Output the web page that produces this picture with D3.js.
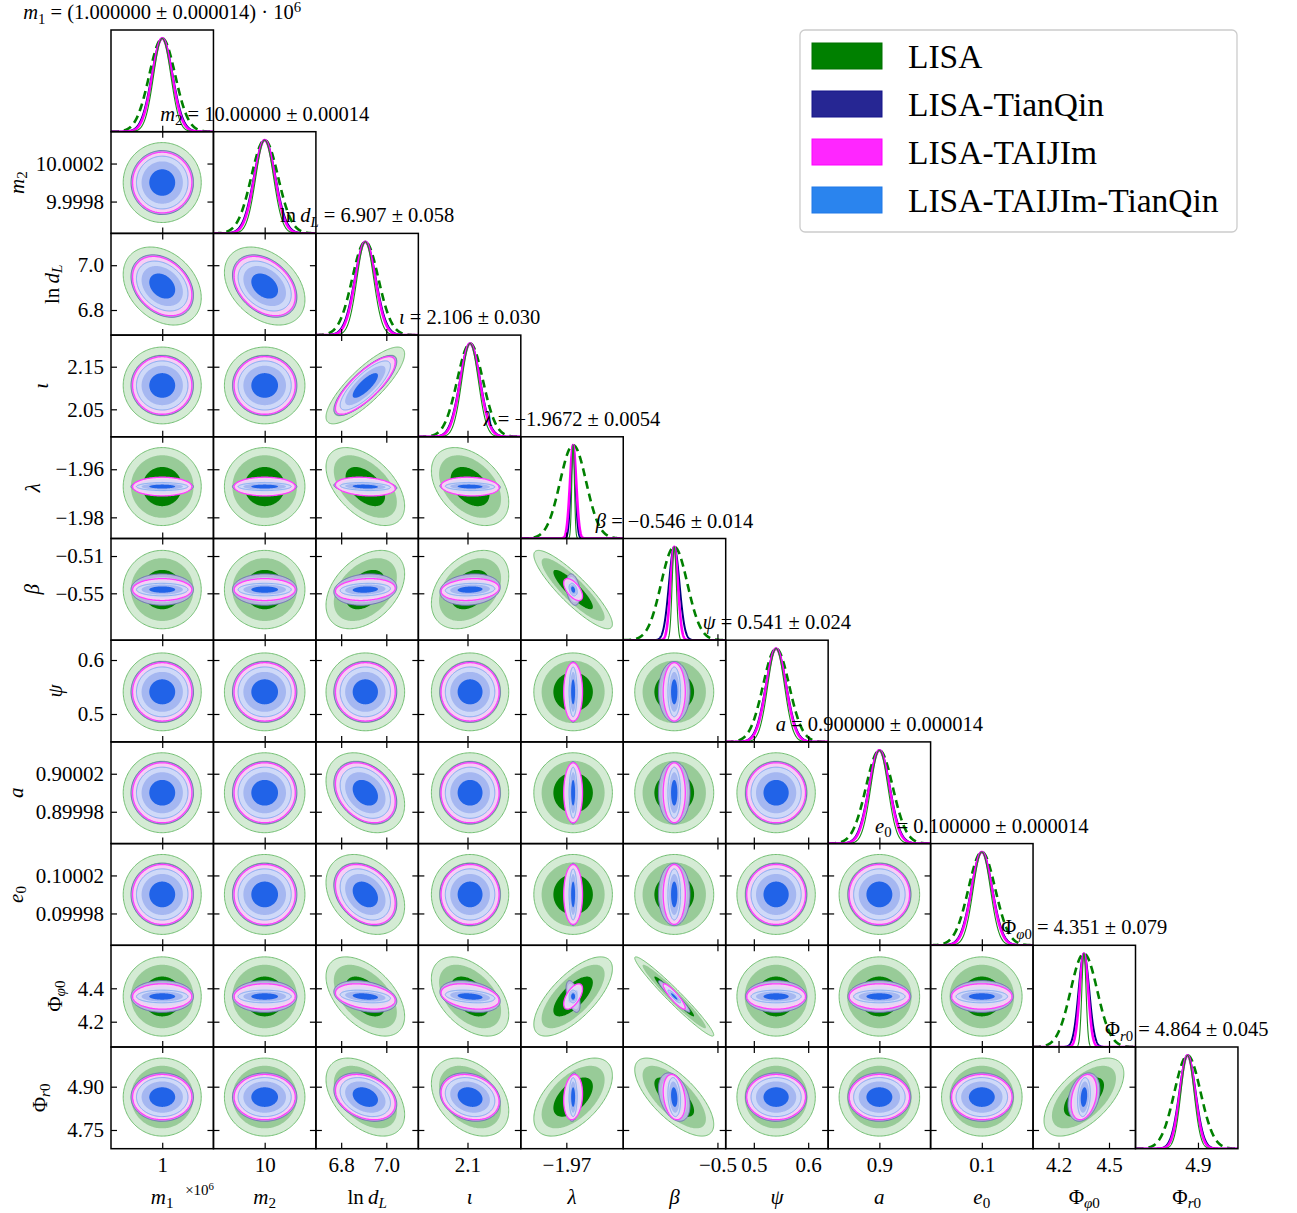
<!DOCTYPE html>
<html>
<head>
<meta charset="utf-8">
<script src="https://cdn.jsdelivr.net/npm/d3@7"></script>
<style>
  body { margin: 0; background: #ffffff; }
  svg { display: block; }
</style>
</head>
<body>
<svg id="chart" width="1297" height="1213"></svg>
<script>
// ---------------- data ----------------
const paramKeys   = ['m1', 'm2', 'lndL', 'iota', 'lambda', 'beta', 'psi', 'a', 'e0', 'phiphi0', 'phir0'];
const meanValues  = [1.0, 10.0, 6.907, 2.106, -1.9672, -0.546, 0.541, 0.9, 0.1, 4.351, 4.864];
const lisaSigma   = [0.000014, 0.00014, 0.058, 0.030, 0.0054, 0.014, 0.024, 0.000014, 0.000014, 0.079, 0.045];
const titleDigits = [6, 5, 3, 3, 4, 3, 3, 6, 6, 3, 3];

// widths of the networked configurations, relative to LISA alone
const tianqinRatio  = [0.80, 0.80, 0.80, 0.78, 0.18, 0.40, 0.78, 0.78, 0.78, 0.40, 0.62];
const taijiRatio    = [0.76, 0.76, 0.76, 0.75, 0.24, 0.28, 0.75, 0.75, 0.75, 0.32, 0.58];
const combinedRatio = [0.66, 0.66, 0.64, 0.64, 0.10, 0.16, 0.64, 0.64, 0.64, 0.16, 0.50];

// plotted parameter ranges
const axisMin = [0.9999448, 9.999465, 6.688, 1.9855, -1.9888, -0.6003, 0.4483, 0.8999465, 0.0999465, 4.0485, 4.6852];
const axisMax = [1.0000552, 10.000535, 7.142, 2.2242, -1.9465, -0.4912, 0.6367, 0.9000535, 0.1000535, 4.6575, 5.0375];

const xTickValues = [[1], [10], [6.8, 7.0], [2.1], [-1.97], [-0.5], [0.5, 0.6], [0.9], [0.1], [4.2, 4.5], [4.9]];
const xTickLabels = [['1'], ['10'], ['6.8', '7.0'], ['2.1'], ['\u22121.97'], ['\u22120.5'], ['0.5', '0.6'], ['0.9'], ['0.1'], ['4.2', '4.5'], ['4.9']];
const yTickValues = [[], [10.0002, 9.9998], [7.0, 6.8], [2.15, 2.05], [-1.96, -1.98], [-0.51, -0.55], [0.6, 0.5],
                     [0.90002, 0.89998], [0.10002, 0.09998], [4.4, 4.2], [4.90, 4.75]];
const yTickLabels = [[], ['10.0002', '9.9998'], ['7.0', '6.8'], ['2.15', '2.05'], ['\u22121.96', '\u22121.98'],
                     ['\u22120.51', '\u22120.55'], ['0.6', '0.5'], ['0.90002', '0.89998'], ['0.10002', '0.09998'],
                     ['4.4', '4.2'], ['4.90', '4.75']];

// correlation coefficients: [row param, column param, LISA, TianQin, TAIJIm, combined]
const correlations = [
  [2, 0, -0.30, -0.30, -0.30, -0.30],
  [2, 1, -0.35, -0.35, -0.35, -0.35],
  [3, 2,  0.82,  0.80,  0.80,  0.80],
  [4, 2, -0.50, -0.20, -0.20, -0.20],
  [4, 3, -0.40, -0.10, -0.10, -0.10],
  [5, 2,  0.40,  0.15,  0.15,  0.15],
  [5, 3,  0.35,  0.15,  0.15,  0.15],
  [5, 4, -0.88, -0.30, -0.60, -0.30],
  [7, 2, -0.30, -0.30, -0.30, -0.30],
  [8, 2, -0.30, -0.30, -0.30, -0.30],
  [9, 2, -0.50, -0.30, -0.30, -0.30],
  [9, 3, -0.45, -0.30, -0.30, -0.30],
  [9, 4,  0.70, -0.50,  0.60,  0.00],
  [9, 5, -0.97, -0.95, -0.90, -0.90],
  [10, 2, -0.45, -0.30, -0.30, -0.30],
  [10, 3, -0.35, -0.20, -0.20, -0.20],
  [10, 4,  0.55,  0.15,  0.15,  0.00],
  [10, 5, -0.70, -0.35, -0.25, -0.20],
  [10, 9,  0.60,  0.30,  0.30,  0.20]
];

const detectorNames = ['LISA', 'LISA-TianQin', 'LISA-TAIJIm', 'LISA-TAIJIm-TianQin'];
const contourLevels = [0.989, 0.945, 0.68];   // enclosed probability, outer to inner

// ---------------- styling ----------------
const FONT = '"Liberation Serif", "Times New Roman", "DejaVu Serif", serif';
const detectorStyle = [
  { fills: ['#d4ebd4', '#98cb98', '#008000'], edge: '#73bf73', edgeW: 1.0,
    line: '#008000', lineW: 2.6, dash: '8,5', legend: '#008000', legendEdge: '#007000' },
  { fills: ['#b5b8da', '#c9ccea', '#aab2e6'], edge: '#6d71b3', edgeW: 1.0,
    line: '#000080', lineW: 2.0, dash: null, legend: '#262693', legendEdge: '#14148a' },
  { fills: ['#f5cff5', '#ddd9f5', '#bdc9f3'], edge: '#ff3dff', edgeW: 1.3,
    line: '#ff00ff', lineW: 2.6, dash: null, legend: '#ff26ff', legendEdge: '#ff00ff' },
  { fills: ['#cfd9f8', '#a5b7f1', '#2163e8'], edge: '#82aaf2', edgeW: 1.0,
    line: '#1a8a1a', lineW: 1.1, dash: null, legend: '#2a84ee', legendEdge: '#1e78e8' }
];
const ratios = [null, tianqinRatio, taijiRatio, combinedRatio];
const sigmaOf = (d, p) => lisaSigma[p] * (d === 0 ? 1 : ratios[d][p]);
const corrOf = (d, i, j) => {
  const row = correlations.find(c => c[0] === i && c[1] === j);
  return row ? row[2 + d] : 0;
};

// math-style labels (italic symbols, sub/superscripts)
const paramLabels = [
  [{ t: 'm', it: 1 }, { t: '1', sub: 1 }],
  [{ t: 'm', it: 1 }, { t: '2', sub: 1 }],
  [{ t: 'ln\u2009' }, { t: 'd', it: 1 }, { t: 'L', it: 1, sub: 1 }],
  [{ t: '\u03b9', it: 1 }],
  [{ t: '\u03bb', it: 1 }],
  [{ t: '\u03b2', it: 1 }],
  [{ t: '\u03c8', it: 1 }],
  [{ t: 'a', it: 1 }],
  [{ t: 'e', it: 1 }, { t: '0', sub: 1 }],
  [{ t: '\u03a6' }, { t: '\u03c6', it: 1, sub: 1 }, { t: '0', sub: 1 }],
  [{ t: '\u03a6' }, { t: 'r', it: 1, sub: 1 }, { t: '0', sub: 1 }]
];

function mathText(sel, segs, size) {
  let shift = 0;
  segs.forEach(s => {
    const sp = sel.append('tspan').text(s.t);
    let target = 0, fs = size;
    if (s.sub) { target = size * 0.22; fs = size * 0.72; }
    if (s.sup) { target = -size * 0.36; fs = size * 0.72; }
    sp.attr('font-size', fs);
    if (target !== shift) { sp.attr('dy', target - shift); shift = target; }
    if (s.it) sp.attr('font-style', 'italic');
  });
  return sel;
}
const fmt = (v, d) => v.toFixed(d).replace('-', '\u2212');

// ---------------- layout ----------------
const svg = d3.select('#chart');
const N = paramKeys.length;
const X0 = 111, Y0 = 30, CW = 102.45, CH = 101.7;
const TICK = 6;
const rowLabelX = [0, 17, 52, 41, 33, 32, 55, 16, 16, 55, 40];
const defs = svg.append('defs');

function tickAxes(g, x, y, xv, yv) {
  const clean = sel => {
    sel.select('.domain').remove();
    sel.selectAll('.tick line').attr('stroke', '#000').attr('stroke-width', 1.2);
  };
  g.append('g').attr('transform', `translate(0,${CH})`)
    .call(d3.axisBottom(x).tickValues(xv).tickSize(-TICK).tickFormat('')).call(clean);
  if (y) {
    g.append('g').call(d3.axisTop(x).tickValues(xv).tickSize(-TICK).tickFormat('')).call(clean);
    g.append('g').call(d3.axisLeft(y).tickValues(yv).tickSize(-TICK).tickFormat('')).call(clean);
    g.append('g').attr('transform', `translate(${CW},0)`)
      .call(d3.axisRight(y).tickValues(yv).tickSize(-TICK).tickFormat('')).call(clean);
  }
}

for (let i = 0; i < N; i++) {
  for (let j = 0; j <= i; j++) {
    const g = svg.append('g').attr('transform', `translate(${X0 + j * CW},${Y0 + i * CH})`);
    const clipId = `clip-${i}-${j}`;
    defs.append('clipPath').attr('id', clipId)
      .append('rect').attr('width', CW).attr('height', CH);
    const body = g.append('g').attr('clip-path', `url(#${clipId})`);
    const x = d3.scaleLinear().domain([axisMin[j], axisMax[j]]).range([0, CW]);

    if (i === j) {
      // 1D marginal densities, each scaled to unit peak
      const y = d3.scaleLinear().domain([0, 1.09]).range([CH, 0]);
      const xs = d3.range(0, 601).map(k => axisMin[j] + (axisMax[j] - axisMin[j]) * k / 600);
      detectorNames.forEach((name, d) => {
        const s = sigmaOf(d, j), mu = meanValues[j], st = detectorStyle[d];
        const line = d3.line()
          .x(v => x(v))
          .y(v => y(Math.exp(-0.5 * ((v - mu) / s) ** 2)));
        body.append('path').datum(xs).attr('d', line)
          .attr('fill', 'none').attr('stroke', st.line).attr('stroke-width', st.lineW)
          .attr('stroke-dasharray', st.dash);
      });
      tickAxes(g, x, null, xTickValues[j], null);

      // title with mean and error
      const title = g.append('text').attr('x', CW / 2).attr('y', -11)
        .attr('text-anchor', 'middle').attr('font-family', FONT).attr('font-size', 20.5);
      let tail;
      if (j === 0) {
        tail = [{ t: ` = (${fmt(meanValues[j], titleDigits[j])} \u00b1 ${fmt(lisaSigma[j], titleDigits[j])}) \u00b7 10` },
                { t: '6', sup: 1 }];
      } else {
        tail = [{ t: ` = ${fmt(meanValues[j], titleDigits[j])} \u00b1 ${fmt(lisaSigma[j], titleDigits[j])}` }];
      }
      mathText(title, paramLabels[j].concat(tail), 20.5);
    } else {
      // 2D confidence regions as Gaussian contours
      const y = d3.scaleLinear().domain([axisMin[i], axisMax[i]]).range([CH, 0]);
      const angles = d3.range(0, 180).map(k => 2 * Math.PI * k / 180);
      detectorNames.forEach((name, d) => {
        const sx = sigmaOf(d, j), sy = sigmaOf(d, i), rho = corrOf(d, i, j);
        const mx = meanValues[j], my = meanValues[i], st = detectorStyle[d];
        contourLevels.forEach((p, li) => {
          const r = Math.sqrt(-2 * Math.log(1 - p));
          const pts = angles.map(t => [
            mx + r * sx * Math.cos(t),
            my + r * sy * (rho * Math.cos(t) + Math.sqrt(1 - rho * rho) * Math.sin(t))
          ]);
          const line = d3.line().x(q => x(q[0])).y(q => y(q[1])).curve(d3.curveLinearClosed);
          body.append('path').datum(pts).attr('d', line)
            .attr('fill', st.fills[li])
            .attr('stroke', li === 0 ? st.edge : 'none')
            .attr('stroke-width', st.edgeW);
        });
      });
      tickAxes(g, x, y, xTickValues[j], yTickValues[i]);
    }

    g.append('rect').attr('width', CW).attr('height', CH)
      .attr('fill', 'none').attr('stroke', '#000').attr('stroke-width', 1.5);

    // bottom row: tick labels and parameter names
    if (i === N - 1) {
      const ax = g.append('g').attr('transform', `translate(0,${CH})`)
        .call(d3.axisBottom(x).tickValues(xTickValues[j]).tickSize(0).tickPadding(8)
          .tickFormat((v, k) => xTickLabels[j][k]));
      ax.select('.domain').remove();
      ax.attr('font-family', FONT).attr('font-size', 21);
      const lab = g.append('text').attr('x', CW / 2).attr('y', CH + 55)
        .attr('text-anchor', 'middle').attr('font-family', FONT).attr('font-size', 21);
      mathText(lab, paramLabels[j], 21);
    }
    // left column: tick labels
    if (j === 0 && i > 0) {
      const ay = g.append('g')
        .call(d3.axisLeft(d3.scaleLinear().domain([axisMin[i], axisMax[i]]).range([CH, 0]))
          .tickValues(yTickValues[i]).tickSize(0).tickPadding(7)
          .tickFormat((v, k) => yTickLabels[i][k]));
      ay.select('.domain').remove();
      ay.attr('font-family', FONT).attr('font-size', 21);
    }
  }
}

// row labels, rotated
for (let i = 1; i < N; i++) {
  const cy = Y0 + i * CH + CH / 2;
  const t = svg.append('text')
    .attr('transform', `translate(${rowLabelX[i]},${cy}) rotate(-90)`)
    .attr('text-anchor', 'middle').attr('dominant-baseline', 'central')
    .attr('font-family', FONT).attr('font-size', 21);
  mathText(t, paramLabels[i], 21);
}

// axis multiplier for m1
mathText(svg.append('text').attr('x', 214).attr('y', 1195).attr('text-anchor', 'end')
  .attr('font-family', FONT).attr('font-size', 15), [{ t: '\u00d710' }, { t: '6', sup: 1 }], 15);

// ---------------- legend ----------------
const legend = svg.append('g').attr('transform', 'translate(800,30)');
legend.append('rect').attr('width', 437).attr('height', 202).attr('rx', 5)
  .attr('fill', '#ffffff').attr('fill-opacity', 0.85)
  .attr('stroke', '#cccccc').attr('stroke-width', 1.3);
detectorNames.forEach((name, d) => {
  const cy = 26 + d * 48;
  legend.append('rect').attr('x', 12).attr('y', cy - 13).attr('width', 70).attr('height', 26)
    .attr('fill', detectorStyle[d].legend).attr('stroke', detectorStyle[d].legendEdge).attr('stroke-width', 1);
  legend.append('text').attr('x', 108).attr('y', cy + 12)
    .attr('font-family', FONT).attr('font-size', 33.5).attr('fill', '#000').text(name);
});
</script>
</body>
</html>
